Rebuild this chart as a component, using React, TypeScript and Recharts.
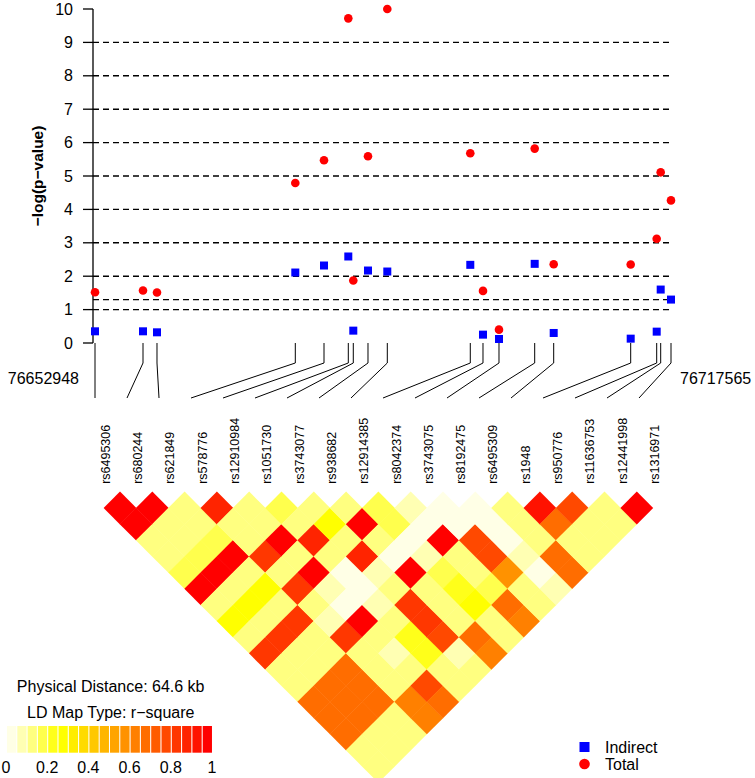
import React from 'react';
import { ScatterChart, Scatter, XAxis, YAxis, ReferenceLine, LineChart, Line, BarChart, Bar, Cell } from 'recharts';

// ---------------- data ----------------
const snpNames = ['rs6495306', 'rs680244', 'rs621849', 'rs578776', 'rs12910984', 'rs1051730', 'rs3743077', 'rs938682', 'rs12914385', 'rs8042374', 'rs3743075', 'rs8192475', 'rs6495309', 'rs1948', 'rs950776', 'rs11636753', 'rs12441998', 'rs1316971'];
const snpPositions = [76652948, 76658333, 76659903, 76675418, 76678638, 76681364, 76681924, 76683573, 76685739, 76695049, 76696474, 76698269, 76702274, 76704406, 76713044, 76715961, 76716409, 76717565];
const indirectValues = [0.35, 0.35, 0.32, 2.11, 2.32, 2.59, 0.37, 2.17, 2.14, 2.34, 0.25, 0.12, 2.37, 0.30, 0.13, 0.34, 1.60, 1.30];
const totalValues = [1.52, 1.57, 1.51, 4.79, 5.47, 9.72, 1.87, 5.59, 10.0, 5.68, 1.56, 0.40, 5.82, 2.36, 2.35, 3.12, 5.11, 4.27];
const yTicks = [0, 1, 2, 3, 4, 5, 6, 7, 8, 9, 10];
const refLines = [1, 1.3, 2, 3, 4, 5, 6, 7, 8, 9];
const seriesNames = ['Indirect', 'Total'];

// LD r-square, upper triangle: row i holds r2(i, j) for j = i+1 .. 17
const ldRow0 = [0.97, 0.97, 0.12, 0.12, 0.17, 0.97, 0.12, 0.27, 0.12, 0.8, 0.11, 0.12, 0.67, 0.67, 0.67, 0.1, 0.1];
const ldRow1 = [0.97, 0.12, 0.12, 0.17, 0.97, 0.12, 0.27, 0.12, 0.8, 0.11, 0.12, 0.67, 0.67, 0.67, 0.1, 0.1];
const ldRow2 = [0.12, 0.12, 0.17, 0.97, 0.12, 0.27, 0.12, 0.8, 0.11, 0.12, 0.67, 0.67, 0.67, 0.1, 0.1];
const ldRow3 = [0.85, 0.12, 0.12, 0.82, 0.12, 0.8, 0.12, 0.07, 0.8, 0.12, 0.12, 0.12, 0.62, 0.62];
const ldRow4 = [0.12, 0.12, 0.97, 0.12, 0.97, 0.07, 0.02, 0.97, 0.12, 0.08, 0.12, 0.75, 0.67];
const ldRow5 = [0.17, 0.12, 0.87, 0.12, 0.03, 0.02, 0.07, 0.12, 0.22, 0.2, 0.1, 0.12];
const ldRow6 = [0.12, 0.25, 0.12, 0.87, 0.07, 0.12, 0.8, 0.8, 0.75, 0.07, 0.1];
const ldRow7 = [0.12, 0.97, 0.12, 0.02, 0.97, 0.12, 0.12, 0.12, 0.68, 0.62];
const ldRow8 = [0.17, 0.17, 0.02, 0.07, 0.17, 0.2, 0.27, 0.12, 0.12];
const ldRow9 = [0.08, 0.02, 0.97, 0.11, 0.12, 0.17, 0.65, 0.6];
const ldRow10 = [0.02, 0.03, 0.77, 0.77, 0.58, 0.12, 0.12];
const ldRow11 = [0.02, 0.03, 0.03, 0.07, 0.02, 0.05];
const ldRow12 = [0.12, 0.1, 0.12, 0.65, 0.65];
const ldRow13 = [0.92, 0.67, 0.12, 0.1];
const ldRow14 = [0.78, 0.12, 0.12];
const ldRow15 = [0.12, 0.12];
const ldRow16 = [0.97];
const ldRows = [ldRow0, ldRow1, ldRow2, ldRow3, ldRow4, ldRow5, ldRow6, ldRow7, ldRow8, ldRow9, ldRow10, ldRow11, ldRow12, ldRow13, ldRow14, ldRow15, ldRow16];

const colorBarTicks = [0, 0.2, 0.4, 0.6, 0.8, 1];
// reversed heat.colors(20)
const heatColors = ['#FFFFE6', '#FFFFB3', '#FFFF80', '#FFFF4D', '#FFFF1A', '#FFFF00', '#FFED00', '#FFDB00', '#FFC800', '#FFB600', '#FFA400', '#FF9200', '#FF8000', '#FF6D00', '#FF5B00', '#FF4900', '#FF3700', '#FF2400', '#FF1200', '#FF0000'];

// ---------------- derived ----------------
const FONT = '"Liberation Sans", Arial, Helvetica, sans-serif';
const nSnp = snpNames.length;
const startBp = snpPositions[0];
const endBp = snpPositions[nSnp - 1];
const spanBp = endBp - startBp;
const xMin = startBp - spanBp * 2 / 576;
const xMax = endBp;

const indirectData = snpPositions.map((x, i) => ({ x, y: indirectValues[i] }));
const totalData = snpPositions.map((x, i) => ({ x, y: totalValues[i] }));

const KNEE = 20 / 55;
const connectors = snpPositions.map((x, i) => [
  { x, d: 0 },
  { x, d: KNEE },
  { x: startBp + (i * spanBp) / nSnp, d: 1 },
]);

const ldCells: { x: number; y: number; v: number }[] = [];
ldRows.forEach((row, i) => {
  row.forEach((v, k) => {
    const j = i + 1 + k;
    ldCells.push({ x: (i + j) / 2, y: j - i, v });
  });
});
const ldColor = (v: number) => heatColors[Math.min(19, Math.max(0, Math.floor(v * 20)))];
const snpIdx = snpNames.map((_, i) => i);
const colorBarData = heatColors.map((c, i) => ({ c: (i + 0.5) / heatColors.length, v: 1 }));

// ---------------- shapes ----------------
const SquareShape = (p: any) => <rect x={p.cx - 4} y={p.cy - 4} width={8} height={8} fill="#0000FF" />;
const DotShape = (p: any) => <circle cx={p.cx} cy={p.cy} r={4.3} fill="#FF0000" />;
const DIAMOND = 16.4;
const DiamondShape = (p: any) => {
  const { cx, cy, payload } = p;
  const h = DIAMOND;
  return (
    <polygon
      points={`${cx - h},${cy} ${cx},${cy - h} ${cx + h},${cy} ${cx},${cy + h}`}
      fill={ldColor(payload.v)}
    />
  );
};
const SnpTick = (p: any) => {
  const { x, y, payload } = p;
  const tx = x + 2;
  return (
    <text
      x={tx}
      y={y}
      transform={`rotate(-90 ${tx} ${y})`}
      textAnchor="start"
      dominantBaseline="central"
      fontSize={12.5}
      fontFamily={FONT}
      fill="#000"
    >
      {snpNames[payload.value]}
    </text>
  );
};

export default function App() {
  return (
    <div style={{ position: 'absolute', left: 0, top: 0, width: 755, height: 778, overflow: 'hidden', background: '#fff', fontFamily: FONT }}>
      {/* association plot */}
      <div style={{ position: 'absolute', left: 0, top: 0 }}>
        <ScatterChart width={755} height={362} margin={{ top: 9, right: 84, bottom: 19, left: 33 }}>
          <XAxis type="number" dataKey="x" domain={[xMin, xMax]} tick={false} tickLine={false} height={0}
            axisLine={{ stroke: '#000', strokeWidth: 1.3 }} />
          <YAxis type="number" dataKey="y" domain={[0, 10]} ticks={yTicks} interval={0} width={60}
            tickSize={10} tickMargin={10}
            axisLine={{ stroke: '#000', strokeWidth: 1.3 }} tickLine={{ stroke: '#000', strokeWidth: 1.3 }}
            tick={{ fontSize: 16, fill: '#000', fontFamily: FONT }} />
          {refLines.map((v) => (
            <ReferenceLine key={v} y={v} stroke="#000" strokeWidth={1.4} strokeDasharray="6 4" />
          ))}
          <Scatter name={seriesNames[0]} data={indirectData} shape={SquareShape} isAnimationActive={false} />
          <Scatter name={seriesNames[1]} data={totalData} shape={DotShape} isAnimationActive={false} />
        </ScatterChart>
      </div>

      {/* map connectors */}
      <div style={{ position: 'absolute', left: 0, top: 343 }}>
        <LineChart width={755} height={60} margin={{ top: 0, right: 84, bottom: 5, left: 93 }}>
          <XAxis type="number" dataKey="x" domain={[xMin, xMax]} hide />
          <YAxis type="number" dataKey="d" domain={[0, 1]} reversed hide />
          {connectors.map((c, i) => (
            <Line key={i} data={c} dataKey="d" stroke="#000" strokeWidth={1} dot={false} isAnimationActive={false} />
          ))}
        </LineChart>
      </div>

      {/* LD heatmap */}
      <div style={{ position: 'absolute', left: 0, top: 400 }}>
        <ScatterChart width={755} height={390} margin={{ top: 61.85, right: 85.9, bottom: 7.45, left: 87.7 }}>
          <XAxis type="number" dataKey="x" orientation="top" domain={[-0.5, nSnp - 0.5]} ticks={snpIdx} interval={0}
            height={30} axisLine={false} tickLine={false} tickSize={6} tickMargin={2} tick={SnpTick} />
          <YAxis type="number" dataKey="y" domain={[0, nSnp]} reversed hide />
          <Scatter data={ldCells} shape={DiamondShape} isAnimationActive={false} />
        </ScatterChart>
      </div>

      {/* color key */}
      <div style={{ position: 'absolute', left: 0, top: 720 }}>
        <BarChart width={230} height={58} data={colorBarData} margin={{ top: 6, right: 14, bottom: 0, left: 2 }}>
          <XAxis type="number" dataKey="c" domain={[0, 1]} ticks={colorBarTicks} interval={0} padding={{ left: 4, right: 4 }}
            height={25.3} axisLine={false} tickLine={false} tickSize={0} tickMargin={8.7}
            tick={{ fontSize: 16, fill: '#000', fontFamily: FONT }} />
          <YAxis domain={[0, 1]} hide />
          <Bar dataKey="v" barSize={11} isAnimationActive={false}>
            {colorBarData.map((d, i) => (
              <Cell key={i} fill={heatColors[i]} />
            ))}
          </Bar>
        </BarChart>
      </div>

      {/* static texts */}
      <svg width={755} height={778} style={{ position: 'absolute', left: 0, top: 0, pointerEvents: 'none' }}>
        <text x={37} y={176} transform="rotate(-90 37 176)" textAnchor="middle" dominantBaseline="central"
          fontSize={15.5} fontWeight="bold" fontFamily={FONT} fill="#000">−log(p−value)</text>
        <text x={79} y={378} textAnchor="end" dominantBaseline="central" fontSize={16} fontFamily={FONT} fill="#000">{startBp}</text>
        <text x={680} y={378} textAnchor="start" dominantBaseline="central" fontSize={16} fontFamily={FONT} fill="#000">{endBp}</text>
        <text x={110.7} y={686.7} textAnchor="middle" dominantBaseline="central" fontSize={16} fontFamily={FONT} fill="#000">
          {`Physical Distance: ${(spanBp / 1000).toFixed(1)} kb`}
        </text>
        <text x={110.8} y={712.7} textAnchor="middle" dominantBaseline="central" fontSize={16} fontFamily={FONT} fill="#000">LD Map Type: r−square</text>
        <rect x={579.5} y={742} width={10} height={10} fill="#0000FF" />
        <text x={605} y={747} dominantBaseline="central" fontSize={16} fontFamily={FONT} fill="#000">{seriesNames[0]}</text>
        <circle cx={584.5} cy={764} r={5.3} fill="#FF0000" />
        <text x={605} y={764} dominantBaseline="central" fontSize={16} fontFamily={FONT} fill="#000">{seriesNames[1]}</text>
      </svg>
    </div>
  );
}
